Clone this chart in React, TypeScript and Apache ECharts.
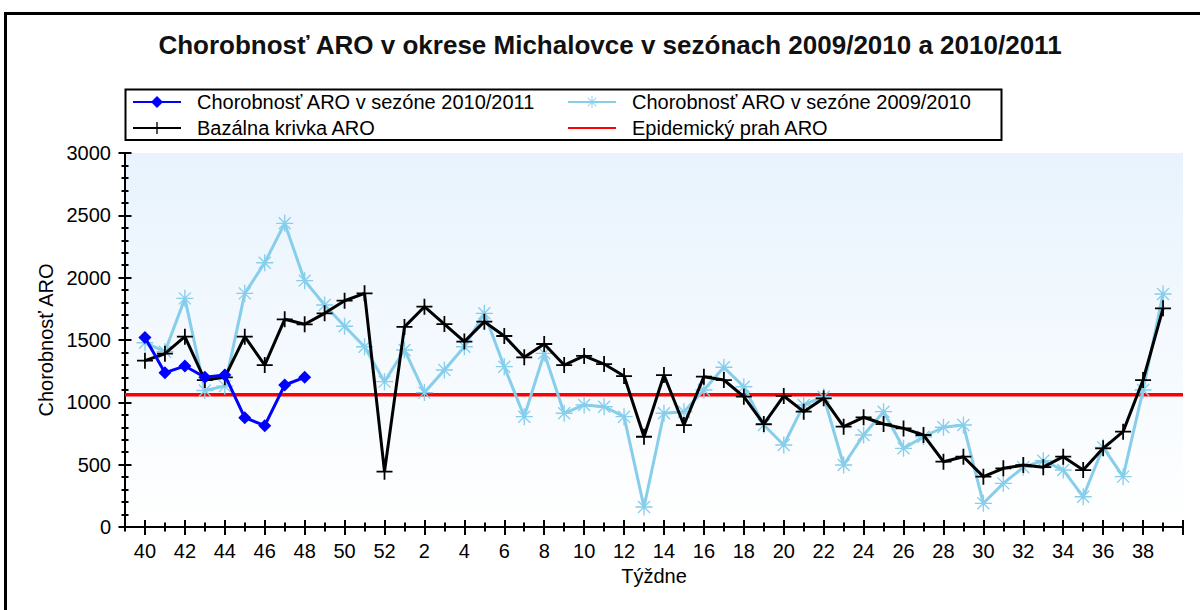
import React, { useEffect, useRef } from "react";
import * as echarts from "echarts";

// Weeks of the season (40..52, then 1..39)
const WEEKS: number[] = [
  40, 41, 42, 43, 44, 45, 46, 47, 48, 49, 50, 51, 52,
  1, 2, 3, 4, 5, 6, 7, 8, 9, 10, 11, 12, 13, 14, 15, 16, 17, 18, 19, 20,
  21, 22, 23, 24, 25, 26, 27, 28, 29, 30, 31, 32, 33, 34, 35, 36, 37, 38, 39,
];

const SEASON_2010_2011: number[] = [1520, 1238, 1291, 1201, 1219, 877, 813, 1139, 1201];

const SEASON_2009_2010: number[] = [
  1478, 1406, 1834, 1095, 1130, 1874, 2120, 2436, 1976, 1781, 1610, 1446, 1166,
  1420, 1078, 1259, 1446, 1714, 1286, 885, 1393, 912, 979, 965, 885, 160, 912,
  925, 1099, 1281, 1125, 818, 658, 979, 1045, 497, 738, 925, 631, 724, 800, 818,
  190, 350, 479, 532, 457, 243, 639, 404, 1099, 1869,
];

const BASAL: number[] = [
  1334, 1390, 1527, 1179, 1201, 1527, 1299, 1666, 1626, 1714, 1815, 1874, 444,
  1605, 1767, 1628, 1487, 1647, 1532, 1361, 1468, 1299, 1372, 1307, 1211, 724,
  1219, 818, 1206, 1179, 1045, 826, 1051, 925, 1032, 805, 880, 826, 791, 738,
  524, 564, 404, 471, 497, 480, 564, 457, 631, 765, 1179, 1754,
];

const EPIDEMIC_THRESHOLD = 1060;

const Y_MIN = 0;
const Y_MAX = 3000;
const Y_STEP = 500;

const NAME_2010 = "Chorobnosť ARO v sezóne 2010/2011";
const NAME_2009 = "Chorobnosť ARO v sezóne 2009/2010";
const NAME_BASAL = "Bazálna krivka ARO";
const NAME_THRESHOLD = "Epidemický prah ARO";
const TITLE = "Chorobnosť ARO v okrese Michalovce v sezónach 2009/2010 a 2010/2011";
const X_NAME = "Týždne";
const Y_NAME = "Chorobnosť ARO";

const FONT = "'Liberation Sans', Arial, sans-serif";

const PLUS_PATH = "path://M-1,-9H1V-1H9V1H1V9H-1V1H-9V-1H-1Z";
const STAR_PATH =
  "path://M-10,-0.8H10V0.8H-10Z M-0.8,-10H0.8V10H-0.8Z " +
  "M-7.6,-6.5L-6.5,-7.6L7.6,6.5L6.5,7.6Z M-6.5,7.6L-7.6,6.5L6.5,-7.6L7.6,-6.5Z";

export default function App() {
  const ref = useRef<HTMLDivElement>(null);

  useEffect(() => {
    if (!ref.current) return;
    const chart = echarts.init(ref.current, undefined, { renderer: "svg" });

    const xCats = ["", ...WEEKS.map(String), ""];
    const odd = (i: number) => i % 2 === 1;
    const gridRect = { left: 125, right: 17, top: 153, bottom: 83 };

    const baseX = {
      type: "category" as const,
      data: xCats,
      boundaryGap: false,
    };
    const hiddenLine = { show: false };
    const legendText = {
      fontSize: 20,
      lineHeight: 20,
      fontFamily: FONT,
      color: "#000",
      padding: [0, 0, 0, 11],
    };

    const option: any = {
      animation: false,
      title: {
        text: TITLE,
        left: 605,
        top: 27,
        textAlign: "center",
        textStyle: { fontSize: 26, fontWeight: "bold", fontFamily: FONT, color: "#111" },
      },
      legend: [
        {
          data: [NAME_2010, NAME_BASAL],
          orient: "vertical",
          left: 132,
          top: 92,
          padding: 0,
          itemWidth: 48,
          itemHeight: 15,
          itemGap: 6,
          selectedMode: false,
          textStyle: legendText,
        },
        {
          data: [NAME_2009, { name: NAME_THRESHOLD, itemStyle: { opacity: 0 } }],
          orient: "vertical",
          left: 567,
          top: 92,
          padding: 0,
          itemWidth: 48,
          itemHeight: 15,
          itemGap: 6,
          selectedMode: false,
          textStyle: legendText,
        },
      ],
      graphic: [
        {
          type: "rect",
          shape: { x: 5.5, y: 13.5, width: 1300, height: 700 },
          style: { fill: "none", stroke: "#000", lineWidth: 3 },
          silent: true,
        },
        {
          type: "rect",
          shape: { x: 125.5, y: 89.5, width: 876, height: 50.5 },
          style: { fill: "none", stroke: "#000", lineWidth: 2 },
          silent: true,
        },
      ],
      grid: [
        {
          ...gridRect,
          show: true,
          borderWidth: 0,
          backgroundColor: new echarts.graphic.LinearGradient(0, 0, 0, 1, [
            { offset: 0, color: "#e8f3fd" },
            { offset: 1, color: "#ffffff" },
          ]),
        },
        { ...gridRect },
        { ...gridRect },
        { ...gridRect },
      ],
      xAxis: [
        {
          ...baseX,
          gridIndex: 0,
          axisLine: { show: true, lineStyle: { color: "#000", width: 2 } },
          axisTick: { show: true, interval: odd, length: 8, lineStyle: { color: "#000", width: 2 } },
          axisLabel: { interval: odd, fontSize: 20, fontFamily: FONT, color: "#000", margin: 14 },
          splitLine: { show: false },
          name: X_NAME,
          nameLocation: "middle",
          nameGap: 37,
          nameTextStyle: { fontSize: 20, fontFamily: FONT, color: "#000" },
        },
        {
          ...baseX,
          gridIndex: 1,
          axisLine: hiddenLine,
          axisTick: { show: true, inside: true, interval: odd, length: 7, lineStyle: { color: "#000", width: 2 } },
          axisLabel: { show: false },
          splitLine: { show: false },
        },
        {
          ...baseX,
          gridIndex: 2,
          axisLine: hiddenLine,
          axisTick: { show: true, interval: 0, length: 4.5, lineStyle: { color: "#000", width: 2 } },
          axisLabel: { show: false },
          splitLine: { show: false },
        },
        {
          ...baseX,
          gridIndex: 3,
          axisLine: hiddenLine,
          axisTick: { show: true, inside: true, interval: 0, length: 4.5, lineStyle: { color: "#000", width: 2 } },
          axisLabel: { show: false },
          splitLine: { show: false },
        },
      ],
      yAxis: [
        {
          type: "value",
          gridIndex: 0,
          min: Y_MIN,
          max: Y_MAX,
          interval: Y_STEP,
          axisLine: { show: true, lineStyle: { color: "#000", width: 2 } },
          axisTick: { show: true, length: 6.5, lineStyle: { color: "#000", width: 2 } },
          minorTick: { show: true, splitNumber: 5, length: 3.5, lineStyle: { color: "#000", width: 2 } },
          axisLabel: {
            fontSize: 20,
            fontFamily: FONT,
            color: "#000",
            margin: 14,
            formatter: (v: number) => String(v),
          },
          splitLine: { show: false },
          minorSplitLine: { show: false },
          name: Y_NAME,
          nameLocation: "middle",
          nameRotate: 90,
          nameGap: 66,
          nameTextStyle: { fontSize: 20, fontFamily: FONT, color: "#000" },
        },
        {
          type: "value",
          gridIndex: 1,
          min: Y_MIN,
          max: Y_MAX,
          interval: Y_STEP,
          axisLine: hiddenLine,
          axisTick: { show: true, inside: true, length: 6.5, lineStyle: { color: "#000", width: 2 } },
          minorTick: { show: true, splitNumber: 5, length: 3.5, lineStyle: { color: "#000", width: 2 } },
          axisLabel: { show: false },
          splitLine: { show: false },
        },
        { type: "value", gridIndex: 2, min: Y_MIN, max: Y_MAX, interval: Y_STEP, show: false },
        { type: "value", gridIndex: 3, min: Y_MIN, max: Y_MAX, interval: Y_STEP, show: false },
      ],
      series: [
        {
          name: NAME_THRESHOLD,
          type: "line",
          data: xCats.map(() => EPIDEMIC_THRESHOLD),
          symbol: "none",
          color: "#ff0000",
          lineStyle: { color: "#ff0000", width: 3.5 },
          z: 2,
          silent: true,
        },
        {
          name: NAME_2009,
          type: "line",
          data: [null, ...SEASON_2009_2010],
          symbol: STAR_PATH,
          symbolSize: 17,
          showAllSymbol: true,
          color: "#87ceeb",
          itemStyle: { color: "#87ceeb" },
          lineStyle: { color: "#87ceeb", width: 3 },
          z: 3,
        },
        {
          name: NAME_BASAL,
          type: "line",
          data: [null, ...BASAL],
          symbol: PLUS_PATH,
          symbolSize: 16,
          showAllSymbol: true,
          color: "#000000",
          itemStyle: { color: "#000000" },
          lineStyle: { color: "#000000", width: 3 },
          z: 4,
        },
        {
          name: NAME_2010,
          type: "line",
          data: [null, ...SEASON_2010_2011],
          symbol: "diamond",
          symbolSize: 13,
          showAllSymbol: true,
          color: "#0000ff",
          itemStyle: { color: "#0000ff" },
          lineStyle: { color: "#0000ff", width: 3 },
          z: 5,
        },
      ],
    };

    chart.setOption(option);
    return () => chart.dispose();
  }, []);

  return (
    <div
      ref={ref}
      style={{ position: "absolute", left: 0, top: 0, width: 1200, height: 610, background: "#fff" }}
    />
  );
}
